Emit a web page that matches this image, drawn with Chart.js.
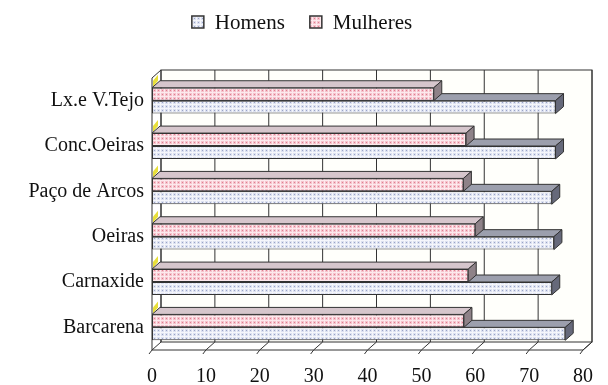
<!DOCTYPE html>
<html>
<head>
<meta charset="utf-8">
<script src="https://cdn.jsdelivr.net/npm/chart.js@4.4.0/dist/chart.umd.min.js"></script>
<style>
  html, body { margin: 0; padding: 0; background: #fff; }
</style>
</head>
<body>
<canvas id="chart" width="608" height="385"></canvas>
<script>
const categories = ["Lx.e V.Tejo", "Conc.Oeiras", "Paço de Arcos", "Oeiras", "Carnaxide", "Barcarena"];
const homens = [74.9, 74.9, 74.2, 74.6, 74.2, 76.7];
const mulheres = [52.3, 58.3, 57.8, 60.0, 58.7, 57.9];
const xTicks = [0, 10, 20, 30, 40, 50, 60, 70, 80];

const SERIF = '"Liberation Serif", "Times New Roman", serif';
const DX = 9, DY = 8;      // depth of the walls
const BDX = 8, BDY = 7;    // depth of the bars

// hatched fills like the scanned print
function makePattern(base, dot, grid) {
  const c = document.createElement("canvas");
  c.width = 4; c.height = 4;
  const g = c.getContext("2d");
  g.fillStyle = base;
  g.fillRect(0, 0, 4, 4);
  g.fillStyle = grid;
  g.fillRect(0, 0, 4, 1);
  g.fillRect(0, 0, 1, 4);
  g.fillStyle = dot;
  g.fillRect(2, 2, 1, 1);
  return g.createPattern(c, "repeat");
}
const bluePat = makePattern("#dce1f0", "#9aa3c6", "#f5f6fb");
const pinkPat = makePattern("#f5c3cd", "#df7f90", "#fde9ed");

function line(ctx, x1, y1, x2, y2) {
  ctx.beginPath();
  ctx.moveTo(x1, y1);
  ctx.lineTo(x2, y2);
  ctx.stroke();
}
function poly(ctx, pts, fill, stroke = true) {
  ctx.beginPath();
  ctx.moveTo(pts[0][0], pts[0][1]);
  for (let i = 1; i < pts.length; i++) ctx.lineTo(pts[i][0], pts[i][1]);
  ctx.closePath();
  ctx.fillStyle = fill;
  ctx.fill();
  if (stroke) ctx.stroke();
}

// back wall, side wall, floor and the top/end faces of the bars
const depth3d = {
  id: "depth3d",
  beforeDatasetsDraw(chart) {
    const { ctx, chartArea: a, scales: { x } } = chart;
    ctx.save();
    ctx.strokeStyle = "#333";
    ctx.lineWidth = 1;
    ctx.fillStyle = "#fffffb";
    ctx.fillRect(a.left + DX, a.top - DY, a.right - a.left, a.bottom - a.top);
    ctx.strokeRect(a.left + DX, a.top - DY, a.right - a.left, a.bottom - a.top);
    xTicks.forEach(v => {
      const px = x.getPixelForValue(v);
      line(ctx, px + DX, a.top - DY, px + DX, a.bottom - DY);
      line(ctx, px + DX, a.bottom - DY, px, a.bottom);
      line(ctx, px, a.bottom, px - 3, a.bottom + 4);
    });
    line(ctx, a.left, a.top, a.left + DX, a.top - DY);
    line(ctx, a.left, a.top, a.left, a.bottom);
    line(ctx, a.left, a.bottom, a.right, a.bottom);
    line(ctx, a.right, a.bottom, a.right + DX, a.bottom - DY);

    // bits of the yellow side wall seen above each group
    chart.getDatasetMeta(0).data.forEach(bar => {
      const p = bar.getProps(["y", "height"], true);
      const yt = p.y - p.height / 2 - 1;
      poly(ctx, [[a.left + 1, yt], [a.left + 6, yt - 6], [a.left + 6, yt - 12], [a.left + 1, yt - 6]], "#e8df3a", false);
    });

    // lower series first so the upper one covers it
    [1, 0].forEach(di => {
      const meta = chart.getDatasetMeta(di);
      const dark = di === 1 ? ["#9c9fad", "#66697a"] : ["#d6c6cc", "#8e8288"];
      meta.data.forEach(bar => {
        const p = bar.getProps(["x", "y", "base", "height"], true);
        const x0 = p.base, x1 = p.x;
        const yt = p.y - p.height / 2, yb = p.y + p.height / 2;
        ctx.strokeStyle = "#333";
        poly(ctx, [[x0, yt], [x0 + BDX, yt - BDY], [x1 + BDX, yt - BDY], [x1, yt]], dark[0]);
        poly(ctx, [[x1, yt], [x1 + BDX, yt - BDY], [x1 + BDX, yb - BDY], [x1, yb]], dark[1]);
      });
    });
    ctx.restore();
  }
};

// legend drawn as text at the top, Homens first
const topLegend = {
  id: "topLegend",
  afterDraw(chart) {
    const { ctx } = chart;
    const items = [chart.data.datasets[1], chart.data.datasets[0]];
    ctx.save();
    ctx.font = "21px " + SERIF;
    ctx.textBaseline = "middle";
    const box = 12, gap = 11, sep = 25;
    const widths = items.map(d => box + gap + ctx.measureText(d.label).width);
    const total = widths.reduce((s, w) => s + w, 0) + sep;
    let xx = 302 - total / 2;
    const yy = 22;
    items.forEach((d, i) => {
      ctx.fillStyle = d.backgroundColor;
      ctx.fillRect(xx, yy - box / 2, box, box);
      ctx.strokeStyle = "#333";
      ctx.lineWidth = 1.5;
      ctx.strokeRect(xx, yy - box / 2, box, box);
      ctx.fillStyle = "#111";
      ctx.fillText(d.label, xx + box + gap, yy + 1);
      xx += widths[i] + sep;
    });
    ctx.restore();
  }
};

new Chart(document.getElementById("chart"), {
  type: "bar",
  data: {
    labels: categories,
    datasets: [
      {
        label: "Mulheres",
        data: mulheres,
        backgroundColor: pinkPat,
        borderColor: "#333",
        borderWidth: 1,
        borderSkipped: false
      },
      {
        label: "Homens",
        data: homens,
        backgroundColor: bluePat,
        borderColor: "#333",
        borderWidth: 1,
        borderSkipped: false
      }
    ]
  },
  options: {
    indexAxis: "y",
    responsive: false,
    animation: false,
    devicePixelRatio: 1,
    layout: { padding: { top: 78, right: 13, left: 0, bottom: 0 } },
    datasets: { bar: { categoryPercentage: 0.57, barPercentage: 1 } },
    plugins: {
      legend: { display: false },
      tooltip: { enabled: false }
    },
    scales: {
      x: {
        min: 0,
        max: 80,
        afterBuildTicks: s => { s.ticks = xTicks.map(v => ({ value: v })); },
        afterFit: s => { s.height = 35; },
        grid: { display: false, drawTicks: false },
        border: { display: false },
        ticks: { color: "#111", padding: 15, font: { family: SERIF, size: 20 } }
      },
      y: {
        afterFit: s => { s.width = 152; },
        grid: { display: false, drawTicks: false },
        border: { display: false },
        ticks: { color: "#111", padding: 8, font: { family: SERIF, size: 20 } }
      }
    }
  },
  plugins: [depth3d, topLegend]
});
</script>
</body>
</html>
